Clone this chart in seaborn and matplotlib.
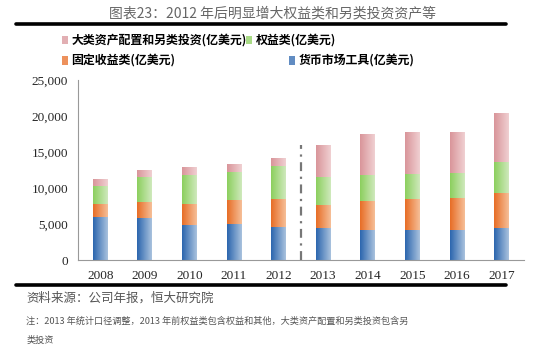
import numpy as np
import pandas as pd
import seaborn as sns
import matplotlib.pyplot as plt
from matplotlib.colors import LinearSegmentedColormap
from matplotlib.patches import Rectangle
from matplotlib.lines import Line2D

# 数据（亿美元）
years = ['2008', '2009', '2010', '2011', '2012', '2013', '2014', '2015', '2016', '2017']
money_market = [6050, 5910, 4930, 5030, 4650, 4510, 4240, 4240, 4240, 4510]
fixed_income = [1770, 2190, 2890, 3350, 3910, 3170, 3910, 4190, 4330, 4750]
equity = [2420, 3450, 4050, 3810, 4470, 3820, 3720, 3530, 3490, 4330]
alternative = [1070, 1020, 1120, 1220, 1220, 4560, 5590, 5820, 5680, 6850]

labels = ['大类资产配置和另类投资(亿美元)', '权益类(亿美元)',
          '固定收益类(亿美元)', '货币市场工具(亿美元)']
# 颜色：左深右浅的渐变
grad = {
    'money': ('#2c66ae', '#a9c2de'),
    'fixed': ('#e76d26', '#f6bf98'),
    'equity': ('#8ccf5e', '#cfe9bc'),
    'alt': ('#d9959a', '#f0d0d2'),
}

df = pd.DataFrame({'year': years, 'money': money_market, 'fixed': fixed_income,
                   'equity': equity, 'alt': alternative})
df['c_money'] = df['money']
df['c_fixed'] = df['c_money'] + df['fixed']
df['c_equity'] = df['c_fixed'] + df['equity']
df['c_alt'] = df['c_equity'] + df['alt']

sns.set_style('white')
plt.rcParams['font.family'] = ['Liberation Serif', 'Noto Sans CJK SC', 'DejaVu Sans']

fig = plt.figure(figsize=(5.45, 3.53), dpi=100)
ax = fig.add_axes([0.143, 0.263, 0.818, 0.51])

# 叠加累计值画堆积柱
for key in ['alt', 'equity', 'fixed', 'money']:
    n0 = len(ax.patches)
    sns.barplot(data=df, x='year', y='c_' + key, color=grad[key][0],
                width=0.33, ax=ax, linewidth=0, saturation=1)
    cmap = LinearSegmentedColormap.from_list(key, grad[key])
    g = np.linspace(0, 1, 64).reshape(1, -1)
    for p in ax.patches[n0:]:
        x0, y0 = p.get_x(), p.get_y()
        w, h = p.get_width(), p.get_height()
        im = ax.imshow(g, cmap=cmap, extent=[x0, x0 + w, y0, y0 + h],
                       aspect='auto', zorder=p.get_zorder() + 0.01 * (4 - len(key) % 4))
        im.set_clip_path(p)

ax.set_xlim(-0.5, 9.5)
ax.set_ylim(0, 25000)
ax.set_xlabel('')
ax.set_ylabel('')
ax.set_yticks(range(0, 25001, 5000))
ax.set_yticklabels([f'{v:,}' for v in range(0, 25001, 5000)], fontsize=9.5)
ax.set_xticks(range(10))
ax.set_xticklabels(years, fontsize=9.5)
ax.set_xticks(np.arange(-0.5, 10, 1), minor=True)
ax.tick_params(axis='x', which='major', length=0, pad=7)
ax.tick_params(axis='x', which='minor', length=4, color='#888888', direction='out')
ax.tick_params(axis='y', length=0, pad=7)
for s in ['top', 'right']:
    ax.spines[s].set_visible(False)
for s in ['left', 'bottom']:
    ax.spines[s].set_color('#999999')
    ax.spines[s].set_linewidth(0.8)

# 2012/2013 分界线
ax.plot([4.5, 4.5], [0, 16000], color='#777777', lw=1.6,
        linestyle=(0, (4, 2.5, 1, 2.5)), zorder=5)

# 标题与分隔线
fig.text(0.5, 0.962, '图表23：2012 年后明显增大权益类和另类投资资产等', ha='center', va='center',
         fontsize=10, color='#666666', family=['Noto Sans CJK SC', 'DejaVu Sans'], fontweight='light')
fig.add_artist(Line2D([0.03, 0.928], [0.932, 0.932], color='black', lw=2.6))
fig.add_artist(Line2D([0.03, 0.928], [0.193, 0.193], color='black', lw=2.6))

# 图例
leg_pos = [(0.113, 0.886), (0.452, 0.886), (0.113, 0.829), (0.530, 0.829)]
leg_keys = ['alt', 'equity', 'fixed', 'money']
for (lx, ly), key, lab in zip(leg_pos, leg_keys, labels):
    fig.add_artist(Rectangle((lx, ly - 0.012), 0.011, 0.024, transform=fig.transFigure,
                             facecolor=grad[key][0], edgecolor='none', alpha=0.75))
    fig.text(lx + 0.018, ly, lab, ha='left', va='center', fontsize=8.6, fontweight='bold',
             family=['Noto Sans CJK SC', 'DejaVu Sans'], color='black')

# 资料来源与注释
cjk = ['Noto Sans CJK SC', 'DejaVu Sans']
fig.text(0.048, 0.156, '资料来源：公司年报，恒大研究院', ha='left', va='center', fontsize=9,
         color='#555555', family=cjk, style='italic')
fig.text(0.048, 0.091, '注：2013 年统计口径调整，2013 年前权益类包含权益和其他，大类资产配置和另类投资包含另',
         ha='left', va='center', fontsize=6.6, color='#555555', family=cjk, style='italic')
fig.text(0.048, 0.037, '类投资', ha='left', va='center', fontsize=6.6,
         color='#555555', family=cjk, style='italic')

fig.savefig('out.png', dpi=100)
